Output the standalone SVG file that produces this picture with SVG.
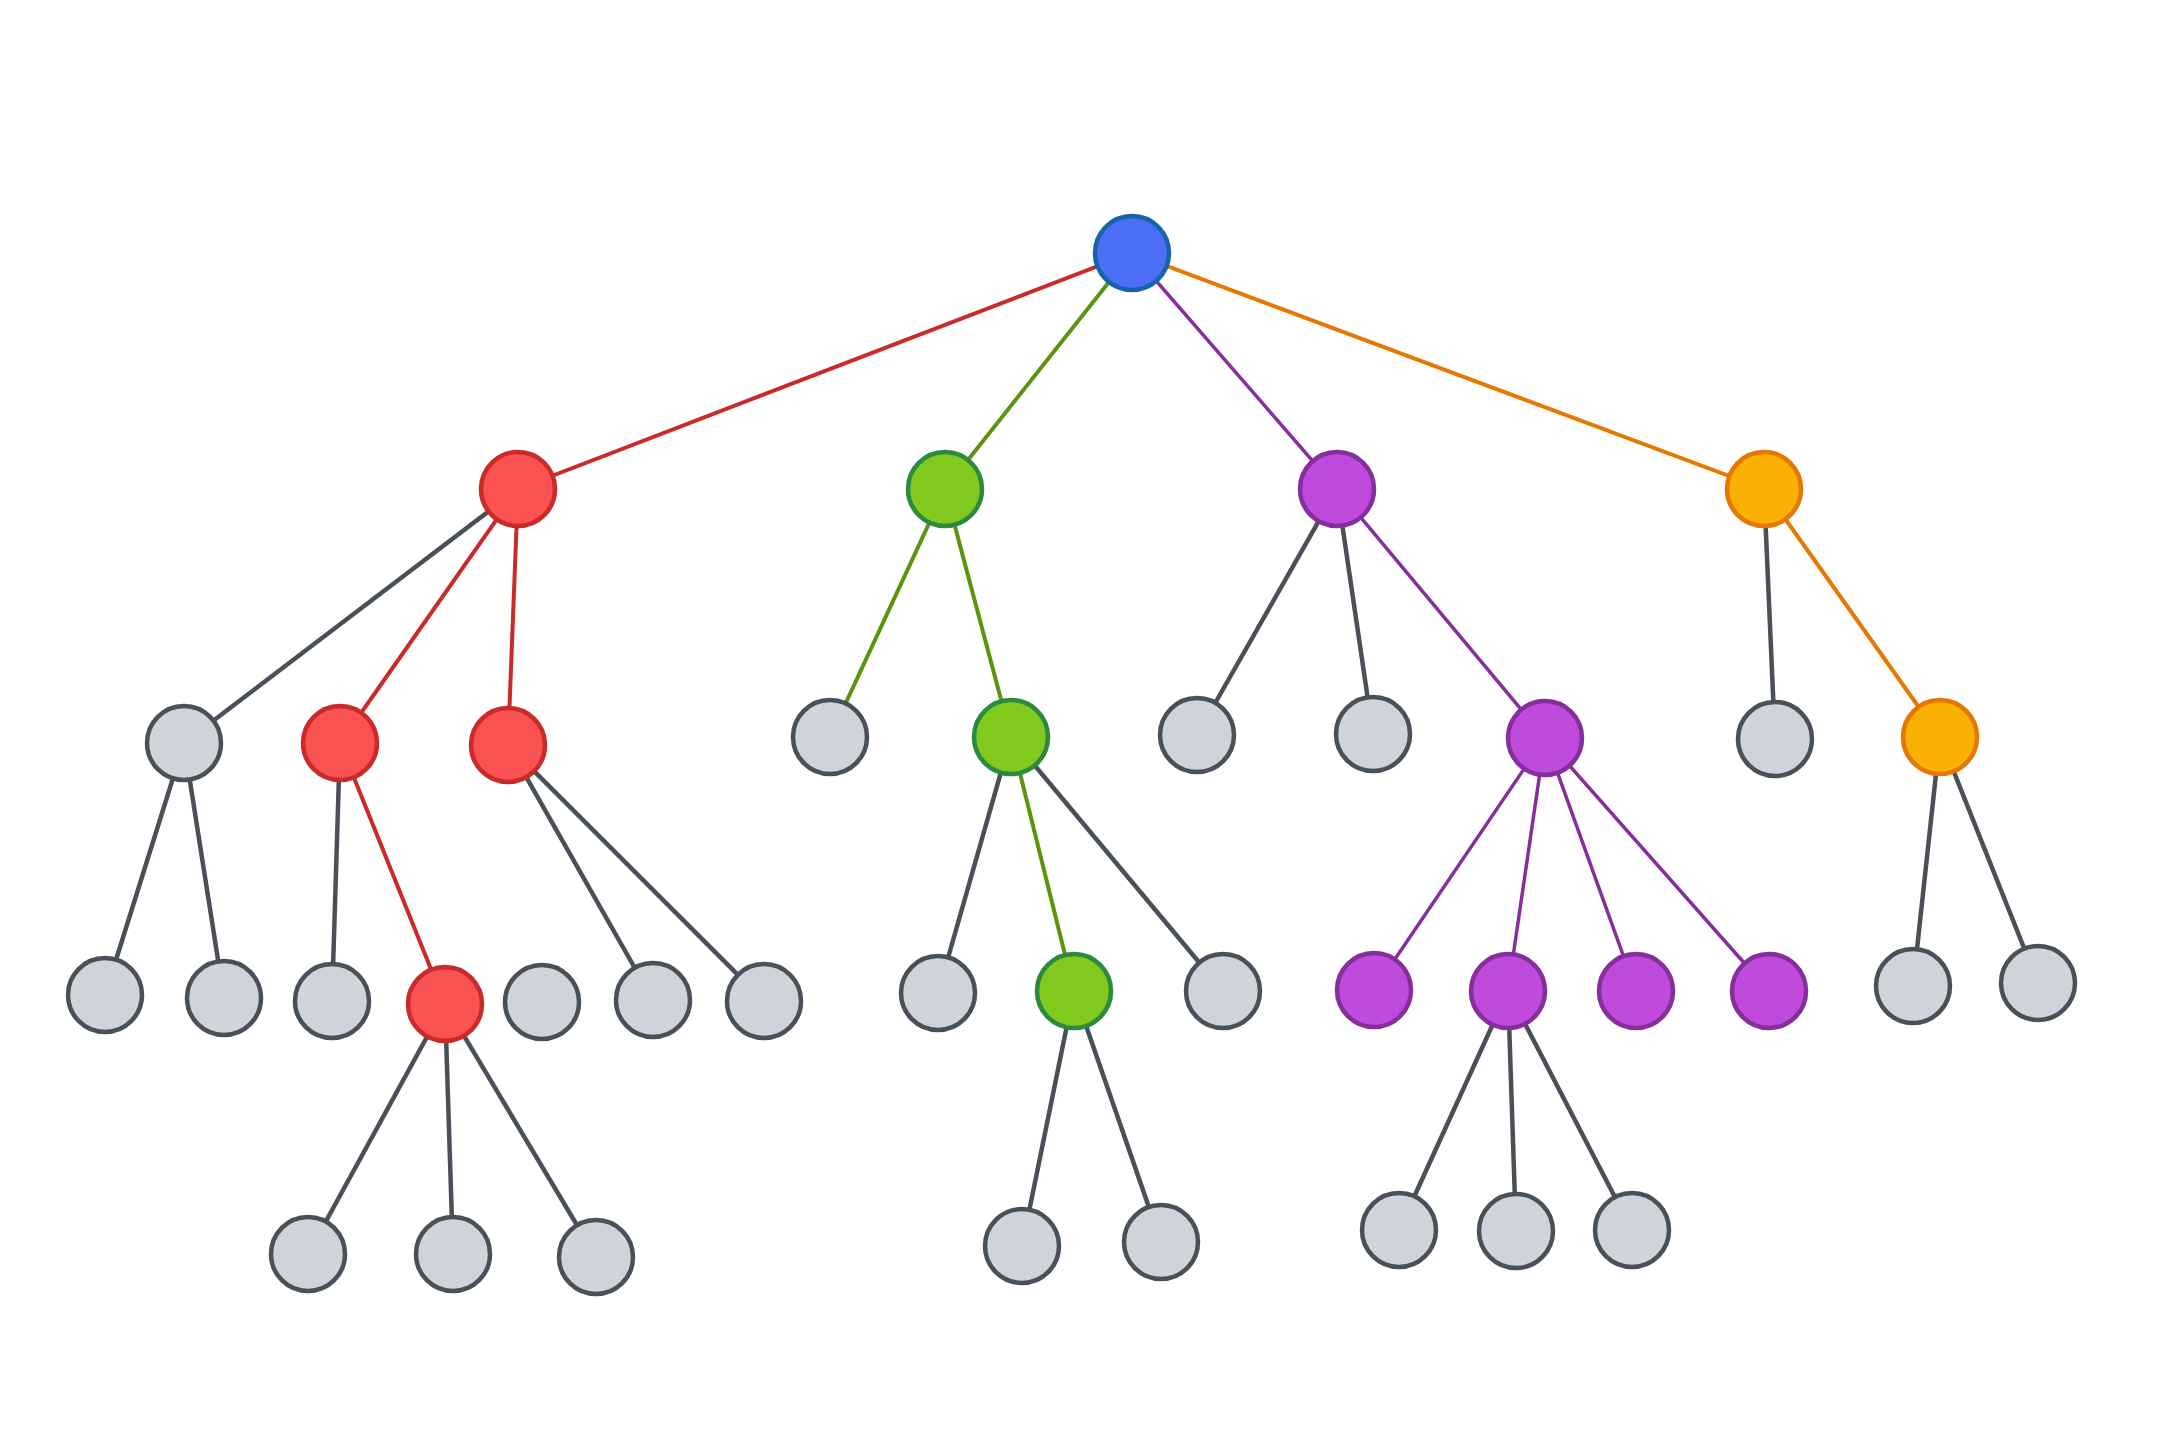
<svg xmlns="http://www.w3.org/2000/svg" width="2159" height="1439" viewBox="0 0 2159 1439">
<style>
.e{stroke-width:4;stroke-linecap:round;fill:none}
.er{stroke:#c92a2a}.eg{stroke:#5c940d}.ep{stroke:#862e9c;stroke-width:3.5}.eo{stroke:#e67700}.ex{stroke:#495057;stroke-width:4.5}
.n{stroke-width:4.5}
.blue{fill:#4c6ef5;stroke:#1864ab}
.red{fill:#fa5252;stroke:#c92a2a}
.green{fill:#82c91e;stroke:#2b8a3e}
.purple{fill:#be4bdb;stroke:#862e9c}
.orange{fill:#fab005;stroke:#e67700}
.gray{fill:#ced4da;stroke:#495057}
</style>
<rect width="2159" height="1439" fill="#ffffff"/>
<g id="connectors">
<line class="e er" x1="1132" y1="253" x2="518" y2="489"/>
<line class="e eg" x1="1132" y1="253" x2="945" y2="489"/>
<line class="e ep" x1="1132" y1="253" x2="1337" y2="489"/>
<line class="e eo" x1="1132" y1="253" x2="1764" y2="489"/>
<line class="e ex" x1="518" y1="489" x2="184" y2="743"/>
<line class="e er" x1="518" y1="489" x2="340" y2="743"/>
<line class="e er" x1="518" y1="489" x2="508" y2="745"/>
<line class="e ex" x1="184" y1="743" x2="105" y2="995"/>
<line class="e ex" x1="184" y1="743" x2="224" y2="998"/>
<line class="e ex" x1="340" y1="743" x2="332" y2="1001"/>
<line class="e er" x1="340" y1="743" x2="445" y2="1004"/>
<line class="e ex" x1="508" y1="745" x2="653" y2="1000"/>
<line class="e ex" x1="508" y1="745" x2="764" y2="1001"/>
<line class="e ex" x1="445" y1="1004" x2="308" y2="1254"/>
<line class="e ex" x1="445" y1="1004" x2="453" y2="1254"/>
<line class="e ex" x1="445" y1="1004" x2="596" y2="1257"/>
<line class="e eg" x1="945" y1="489" x2="830" y2="737"/>
<line class="e eg" x1="945" y1="489" x2="1011" y2="737"/>
<line class="e ex" x1="1011" y1="737" x2="938" y2="993"/>
<line class="e eg" x1="1011" y1="737" x2="1074" y2="991"/>
<line class="e ex" x1="1011" y1="737" x2="1223" y2="991"/>
<line class="e ex" x1="1074" y1="991" x2="1022" y2="1246"/>
<line class="e ex" x1="1074" y1="991" x2="1161" y2="1242"/>
<line class="e ex" x1="1337" y1="489" x2="1197" y2="735"/>
<line class="e ex" x1="1337" y1="489" x2="1373" y2="734"/>
<line class="e ep" x1="1337" y1="489" x2="1545" y2="738"/>
<line class="e ep" x1="1545" y1="738" x2="1374" y2="990"/>
<line class="e ep" x1="1545" y1="738" x2="1508" y2="991"/>
<line class="e ep" x1="1545" y1="738" x2="1636" y2="991"/>
<line class="e ep" x1="1545" y1="738" x2="1769" y2="991"/>
<line class="e ex" x1="1508" y1="991" x2="1399" y2="1230"/>
<line class="e ex" x1="1508" y1="991" x2="1516" y2="1231"/>
<line class="e ex" x1="1508" y1="991" x2="1632" y2="1230"/>
<line class="e ex" x1="1764" y1="489" x2="1775" y2="739"/>
<line class="e eo" x1="1764" y1="489" x2="1940" y2="737"/>
<line class="e ex" x1="1940" y1="737" x2="1913" y2="986"/>
<line class="e ex" x1="1940" y1="737" x2="2038" y2="983"/>
</g>
<g id="root"><circle class="n blue" cx="1132" cy="253" r="37"/></g>
<g id="r1"><circle class="n red" cx="518" cy="489" r="37"/></g>
<g id="g1"><circle class="n green" cx="945" cy="489" r="37"/></g>
<g id="p1"><circle class="n purple" cx="1337" cy="489" r="37"/></g>
<g id="o1"><circle class="n orange" cx="1764" cy="489" r="37"/></g>
<g id="n2a"><circle class="n gray" cx="184" cy="743" r="37"/></g>
<g id="r2a"><circle class="n red" cx="340" cy="743" r="37"/></g>
<g id="r2b"><circle class="n red" cx="508" cy="745" r="37"/></g>
<g id="n2b"><circle class="n gray" cx="830" cy="737" r="37"/></g>
<g id="g2"><circle class="n green" cx="1011" cy="737" r="37"/></g>
<g id="n2c"><circle class="n gray" cx="1197" cy="735" r="37"/></g>
<g id="n2d"><circle class="n gray" cx="1373" cy="734" r="37"/></g>
<g id="p2"><circle class="n purple" cx="1545" cy="738" r="37"/></g>
<g id="n2e"><circle class="n gray" cx="1775" cy="739" r="37"/></g>
<g id="o2"><circle class="n orange" cx="1940" cy="737" r="37"/></g>
<g id="n3a"><circle class="n gray" cx="105" cy="995" r="37"/></g>
<g id="n3b"><circle class="n gray" cx="224" cy="998" r="37"/></g>
<g id="n3c"><circle class="n gray" cx="332" cy="1001" r="37"/></g>
<g id="r3"><circle class="n red" cx="445" cy="1004" r="37"/></g>
<g id="n3d"><circle class="n gray" cx="542" cy="1002" r="37"/></g>
<g id="n3e"><circle class="n gray" cx="653" cy="1000" r="37"/></g>
<g id="n3f"><circle class="n gray" cx="764" cy="1001" r="37"/></g>
<g id="n3g"><circle class="n gray" cx="938" cy="993" r="37"/></g>
<g id="g3"><circle class="n green" cx="1074" cy="991" r="37"/></g>
<g id="n3h"><circle class="n gray" cx="1223" cy="991" r="37"/></g>
<g id="p3a"><circle class="n purple" cx="1374" cy="990" r="37"/></g>
<g id="p3b"><circle class="n purple" cx="1508" cy="991" r="37"/></g>
<g id="p3c"><circle class="n purple" cx="1636" cy="991" r="37"/></g>
<g id="p3d"><circle class="n purple" cx="1769" cy="991" r="37"/></g>
<g id="n3i"><circle class="n gray" cx="1913" cy="986" r="37"/></g>
<g id="n3j"><circle class="n gray" cx="2038" cy="983" r="37"/></g>
<g id="n4a"><circle class="n gray" cx="308" cy="1254" r="37"/></g>
<g id="n4b"><circle class="n gray" cx="453" cy="1254" r="37"/></g>
<g id="n4c"><circle class="n gray" cx="596" cy="1257" r="37"/></g>
<g id="n4d"><circle class="n gray" cx="1022" cy="1246" r="37"/></g>
<g id="n4e"><circle class="n gray" cx="1161" cy="1242" r="37"/></g>
<g id="n4f"><circle class="n gray" cx="1399" cy="1230" r="37"/></g>
<g id="n4g"><circle class="n gray" cx="1516" cy="1231" r="37"/></g>
<g id="n4h"><circle class="n gray" cx="1632" cy="1230" r="37"/></g>
</svg>
